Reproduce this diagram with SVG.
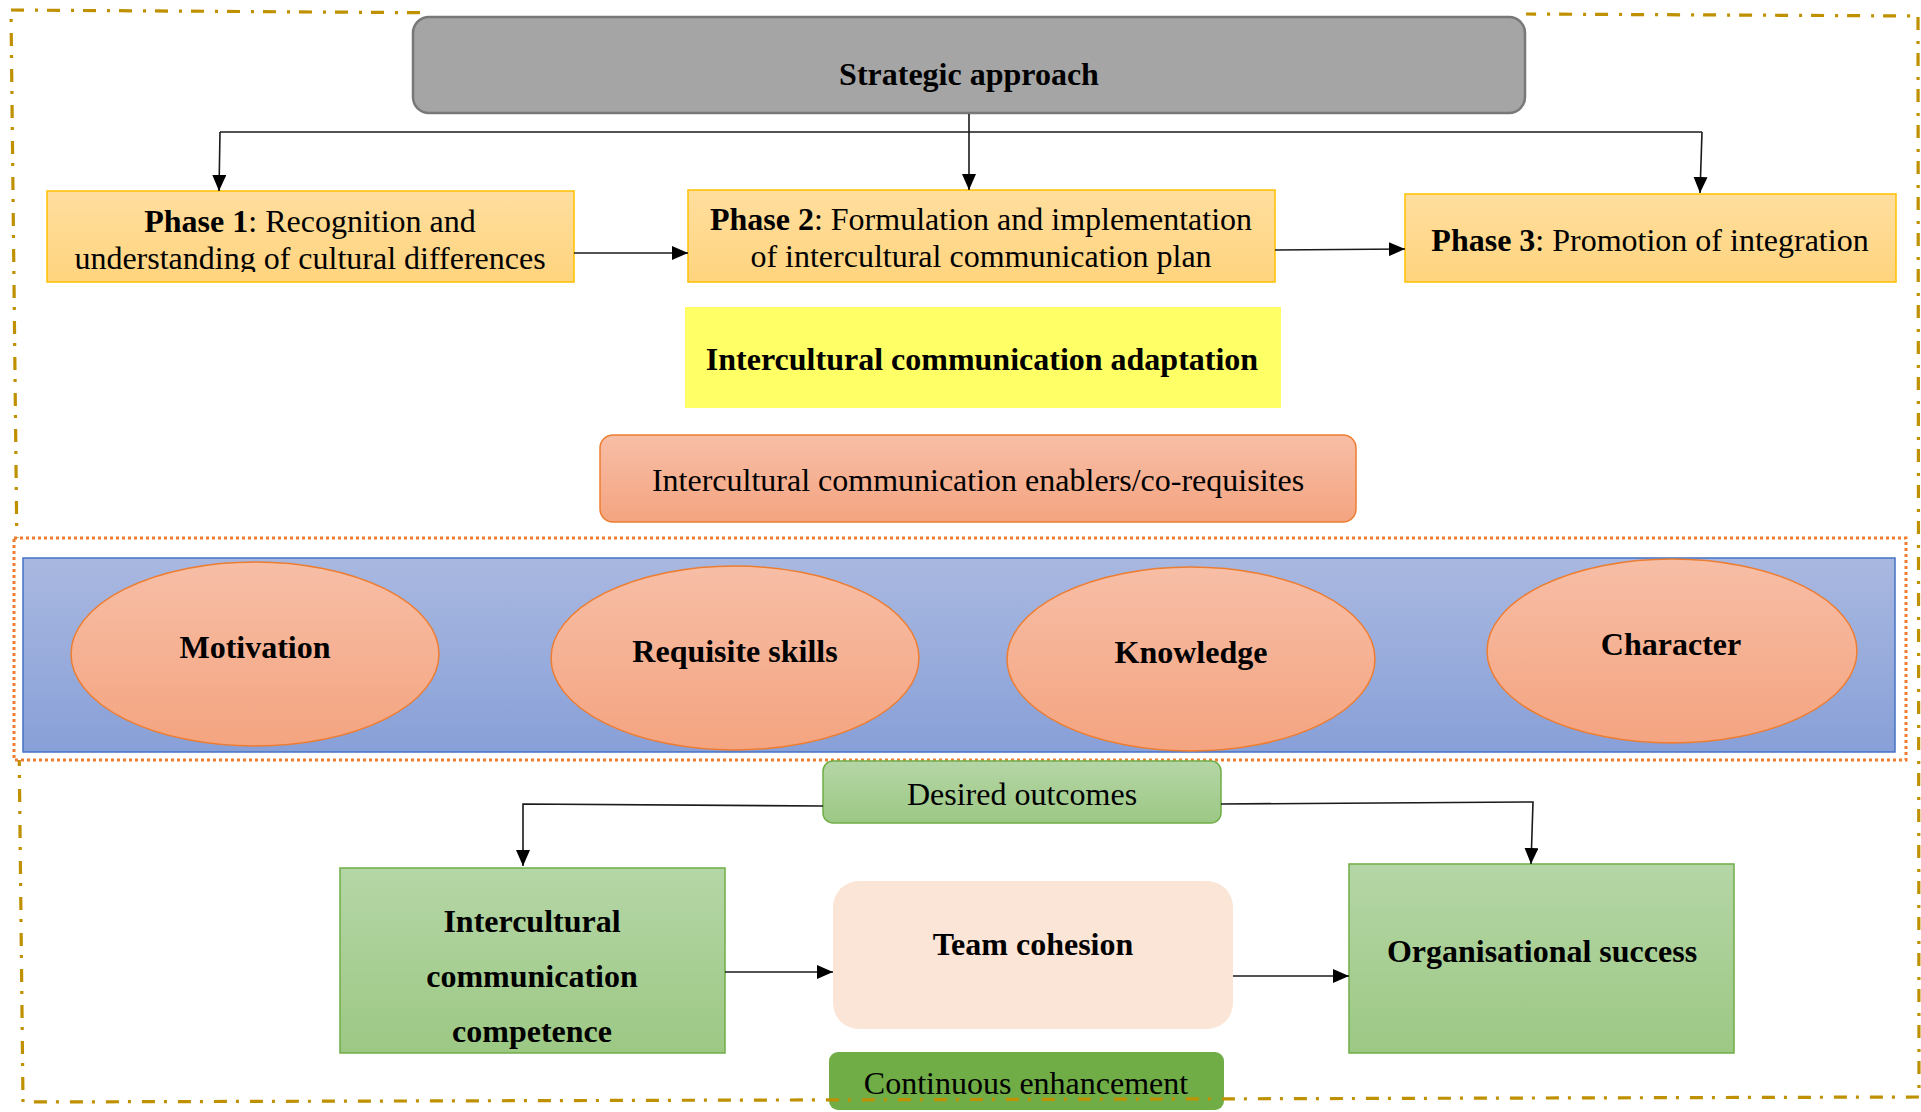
<svg xmlns="http://www.w3.org/2000/svg" width="1921" height="1112" viewBox="0 0 1921 1112">
<defs>
  <linearGradient id="gPhase" x1="0" y1="0" x2="0" y2="1">
    <stop offset="0" stop-color="#FFDE9E"/><stop offset="1" stop-color="#FFD47E"/>
  </linearGradient>
  <linearGradient id="gOrange" x1="0" y1="0" x2="0" y2="1">
    <stop offset="0" stop-color="#F7BEA6"/><stop offset="1" stop-color="#F4A480"/>
  </linearGradient>
  <linearGradient id="gBlue" x1="0" y1="0" x2="0" y2="1">
    <stop offset="0" stop-color="#A9B8E0"/><stop offset="1" stop-color="#88A0D8"/>
  </linearGradient>
  <linearGradient id="gGreen" x1="0" y1="0" x2="0" y2="1">
    <stop offset="0" stop-color="#B5D6A6"/><stop offset="1" stop-color="#9CC884"/>
  </linearGradient>
  <marker id="arr" markerUnits="userSpaceOnUse" markerWidth="16" markerHeight="14" viewBox="0 0 16 14" refX="16" refY="7" orient="auto">
    <path d="M0,0 L16,7 L0,14 z" fill="#000"/>
  </marker>
  <clipPath id="clipP1"><rect x="47" y="191" width="527" height="81"/></clipPath>
</defs>
<style>
  text { font-family: "Liberation Serif", "Times New Roman", serif; fill: #000; }
  .t { font-size: 32px; text-anchor: middle; }
  .b { font-weight: bold; }
  .phase { fill: url(#gPhase); stroke: #FFC000; stroke-width: 1.5; }
  .ell { fill: url(#gOrange); stroke: #ED7D31; stroke-width: 1.5; }
  .green { fill: url(#gGreen); stroke: #70AD47; stroke-width: 1.5; }
  .conn { fill: none; stroke: #1a1a1a; stroke-width: 1.6; }
  .gold { fill: none; stroke: #BF9000; stroke-width: 3.2; stroke-dasharray: 13 9 3 11; }
</style>

<g id="continuous-enhancement">
  <rect x="829" y="1052" width="395" height="58" rx="9" fill="#70AD47"/>
  <text class="t" x="1026" y="1094">Continuous enhancement</text>
</g>

<g id="frame">
  <path class="gold" d="M420,12.7 L11,10 L23,1102 L1919,1097 L1918,16 L1526,14"/>
</g>

<g id="enablers-frame">
  <rect x="14" y="538" width="1892" height="222" fill="#FFFFFF" stroke="#ED7D31" stroke-width="3" stroke-dasharray="3 3"/>
  <rect x="23" y="558" width="1872" height="194" fill="url(#gBlue)" stroke="#4472C4" stroke-width="1.5"/>
</g>

<g id="strategic-approach">
  <rect x="413" y="17" width="1112" height="96" rx="16" fill="#A5A5A5" stroke="#787878" stroke-width="2.5"/>
  <text class="t b" x="969" y="84.5">Strategic approach</text>
</g>

<g id="phase1">
  <rect class="phase" x="47" y="191" width="527" height="91"/>
  <g clip-path="url(#clipP1)">
    <text class="t" x="310" y="231.5"><tspan class="b">Phase 1</tspan>: Recognition and</text>
    <text class="t" x="310" y="268.5">understanding of cultural differences</text>
  </g>
</g>

<g id="phase2">
  <rect class="phase" x="688" y="190" width="587" height="92"/>
  <text class="t" x="981" y="229.5"><tspan class="b">Phase 2</tspan>: Formulation and implementation</text>
  <text class="t" x="981" y="266.5">of intercultural communication plan</text>
</g>

<g id="phase3">
  <rect class="phase" x="1405" y="194" width="491" height="88"/>
  <text class="t" x="1650" y="250.5"><tspan class="b">Phase 3</tspan>: Promotion of integration</text>
</g>

<g id="adaptation">
  <rect x="685" y="307" width="596" height="101" fill="#FFFF66"/>
  <text class="t b" x="982" y="369.5">Intercultural communication adaptation</text>
</g>

<g id="enablers">
  <rect x="600" y="435" width="756" height="87" rx="13" fill="url(#gOrange)" stroke="#ED7D31" stroke-width="1.5"/>
  <text class="t" x="978" y="490.5">Intercultural communication enablers/co-requisites</text>
</g>

<g id="motivation">
  <ellipse class="ell" cx="255" cy="654" rx="184" ry="92"/>
  <text class="t b" x="255" y="657.5">Motivation</text>
</g>
<g id="requisite-skills">
  <ellipse class="ell" cx="735" cy="658" rx="184" ry="92"/>
  <text class="t b" x="735" y="661.5">Requisite skills</text>
</g>
<g id="knowledge">
  <ellipse class="ell" cx="1191" cy="659" rx="184" ry="92"/>
  <text class="t b" x="1191" y="662.5">Knowledge</text>
</g>
<g id="character">
  <ellipse class="ell" cx="1672" cy="651" rx="185" ry="92"/>
  <text class="t b" x="1671" y="654.5">Character</text>
</g>

<g id="desired-outcomes">
  <rect class="green" x="823" y="761" width="398" height="62" rx="10"/>
  <text class="t" x="1022" y="804.5">Desired outcomes</text>
</g>

<g id="icc">
  <rect class="green" x="340" y="868" width="385" height="185"/>
  <text class="t b" x="532" y="931.5">Intercultural</text>
  <text class="t b" x="532" y="986.5">communication</text>
  <text class="t b" x="532" y="1041.5">competence</text>
</g>

<g id="team-cohesion">
  <rect x="833" y="881" width="400" height="148" rx="26" fill="#FBE5D6"/>
  <text class="t b" x="1033" y="954.5">Team cohesion</text>
</g>

<g id="org-success">
  <rect class="green" x="1349" y="864" width="385" height="189"/>
  <text class="t b" x="1542" y="961.5">Organisational success</text>
</g>

<g id="connectors">
  <path class="conn" d="M969,114 L969,190" marker-end="url(#arr)"/>
  <path class="conn" d="M220,132 L1702,132" stroke="#444" stroke-width="2"/>
  <path class="conn" d="M220,132 L219,191" marker-end="url(#arr)"/>
  <path class="conn" d="M1702,132 L1700,193" marker-end="url(#arr)"/>
  <path class="conn" d="M574,253 L688,253" marker-end="url(#arr)"/>
  <path class="conn" d="M1275,250 L1405,249" marker-end="url(#arr)"/>
  <path class="conn" d="M823,806 L523,804 L523,866" marker-end="url(#arr)"/>
  <path class="conn" d="M1221,804 L1533,802 L1531,864" marker-end="url(#arr)"/>
  <path class="conn" d="M725,972 L833,972" marker-end="url(#arr)"/>
  <path class="conn" d="M1233,976 L1349,976" marker-end="url(#arr)"/>
</g>
</svg>
